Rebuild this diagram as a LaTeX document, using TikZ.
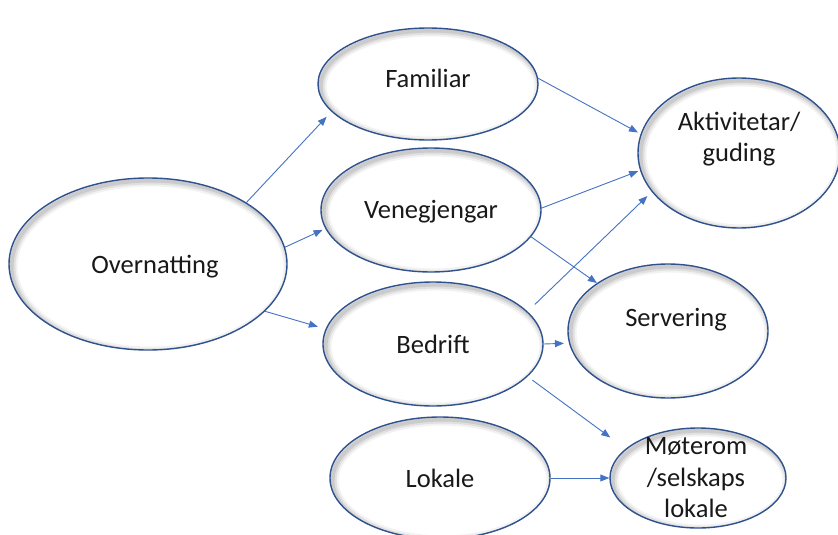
\documentclass[tikz,border=0pt]{standalone}
\usepackage{fontspec}
\setmainfont{Carlito}
\usetikzlibrary{shapes.geometric,arrows.meta}
\definecolor{ovalblue}{HTML}{2F528F}
\definecolor{arrowblue}{HTML}{4472C4}
\begin{document}
\begin{tikzpicture}[x=1pt,y=-1pt,
  oval/.style n args={2}{draw=ovalblue, line width=1.4pt, ellipse, inner sep=0pt,
    fill=white, minimum width=2*#1 pt, minimum height=2*#2 pt,
    path picture={
      \foreach \w/\o in {12/0.05,8/0.07,4/0.09}
        \draw[line width=\w pt, black, opacity=\o]
          ([shift={(2.5pt,-2.5pt)}]path picture bounding box.center)
          ellipse [x radius=#1 pt, y radius=#2 pt];
    }},
  txt/.style={font=\fontsize{26.5}{31.5}\selectfont, align=center, text=black!90},
  conn/.style={draw=arrowblue, line width=0.9pt, -{Triangle[length=9pt,width=7pt]}}
]
\useasboundingbox[fill=white] (0,0) rectangle (838,535);

\node[oval={139}{86}, label={[txt,xshift=7pt,yshift=-3pt]center:Overnatting}] (ov) at (148,264) {};
\node[oval={110}{56}, label={[txt,yshift=6pt]center:Familiar}] (fam) at (428,84) {};
\node[oval={110}{62}, label={[txt,yshift=-2pt]center:Venegjengar}] (ven) at (431,210) {};
\node[oval={110}{62}, label={[txt]center:Bedrift}] (bed) at (433,344) {};
\node[oval={110}{61}, label={[txt]center:Lokale}] (lok) at (440,478) {};
\node[oval={101}{75}, label={[txt,yshift=14pt]center:{Aktivitetar/\\guding}}] (akt) at (739,153) {};
\node[oval={100}{67}, label={[txt,xshift=8pt,yshift=11pt]center:Servering}] (ser) at (668,331) {};
\node[oval={88}{50}, label={[txt,xshift=-2pt]center:{Møterom\\/selskaps\\lokale}}] (mot) at (698,478) {};

\draw[conn, shorten >=7pt] (ov.32) -- (fam.196);
\draw[conn, shorten >=3pt] (ov.7) -- (ven.190);
\draw[conn, shorten >=8pt] (ov.-22) -- (bed.172);
\draw[conn, shorten >=3pt] (fam.3) -- (akt.169);
\draw[conn, shorten >=2pt] (ven.1) -- (akt.190);
\draw[conn] (ven.-15) -- (ser.146);
\draw[conn, shorten <=10pt, shorten >=6pt] (bed.19) -- (akt.204);
\draw[conn, shorten >=5pt] (bed.0) -- (ser.187);
\draw[conn, shorten <=6pt, shorten >=19pt] (bed.-19) -- (mot.158);
\draw[conn] (lok.0) -- (mot.180);
\end{tikzpicture}
\end{document}
